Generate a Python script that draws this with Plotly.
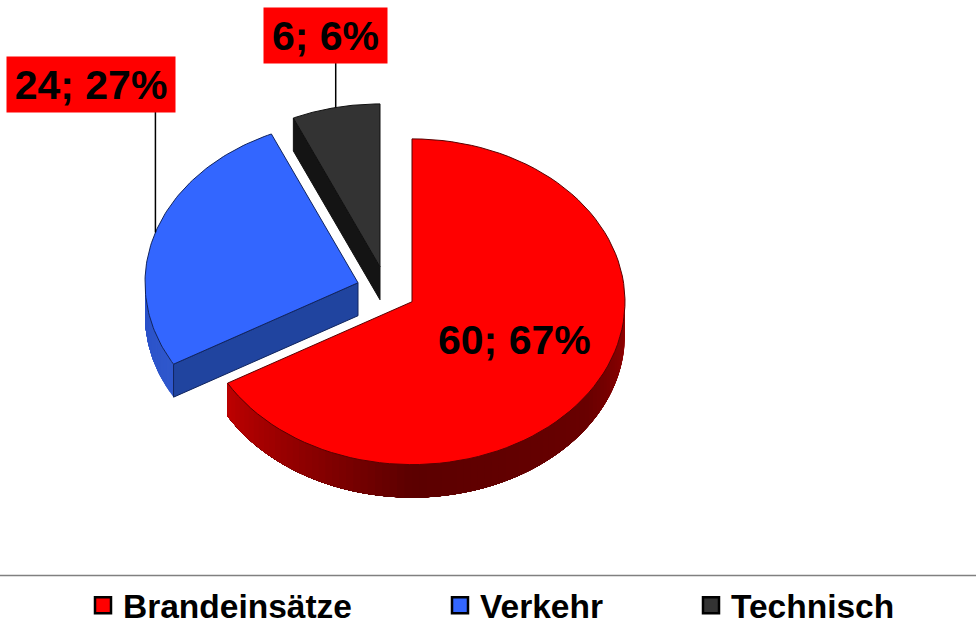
import numpy as np
import plotly.graph_objects as go

categories = ["Brandeinsätze", "Verkehr", "Technisch"]
values = [60, 24, 6]
value_labels = ["60; 67%", "24; 27%", "6; 6%"]
top_colors = ["#ff0000", "#3366ff", "#333333"]
edge_colors = ["#5a0000", "#10245e", "#111111"]
cut_colors = ["#b80000", "#20449f", "#141414"]

# Projection of the exploded pie on the page
RX, RY, DEPTH = 213, 163, 33
apexes = [(412, 302), (358, 283), (380, 267)]
PLOT_H = 577.5  # height left to the plot area above the legends


def rim(apex, deg):
    t = np.radians(deg)
    return apex[0] + RX * np.sin(t), apex[1] - RY * np.cos(t)


def poly(fig, xs, ys, fill, line=None, width=1):
    fig.add_trace(go.Scatter(
        x=list(xs), y=list(ys), mode="lines", fill="toself", fillcolor=fill,
        line=dict(color=line or fill, width=width), hoverinfo="skip", showlegend=False))


def shade(deg, stops):
    a = np.array([s[0] for s in stops], float)
    rgb = np.array([s[1] for s in stops], float)
    return "rgb(%d,%d,%d)" % tuple(np.interp(deg, a, rgb[:, i]) for i in range(3))


red_wall = [(90, (150, 0, 0)), (125, (105, 0, 0)), (180, (92, 0, 0)), (200, (125, 0, 0)), (240, (190, 0, 0))]
blue_wall = [(240, (48, 88, 205)), (270, (40, 80, 200))]
walls = {0: red_wall, 1: blue_wall}

fig = go.Figure()
total = sum(values)
ends = np.cumsum(values) / total * 360
starts = np.concatenate(([0], ends[:-1]))

# draw back slices first
for i in [2, 1, 0]:
    a0, a1, apex = starts[i], ends[i], apexes[i]
    # vertical rim wall where the rim faces the viewer
    lo, hi = max(a0, 90), min(a1, 270)
    if hi > lo:
        grid = np.linspace(lo, hi, int(round((hi - lo) / 2)) + 1)
        for d0, d1 in zip(grid[:-1], grid[1:]):
            # each band runs on to the far end, so the next band overlaps it and no seams show
            ds = np.linspace(d0, hi, 60)
            px, py = rim(apex, ds)
            poly(fig, np.r_[px, px[::-1]], np.r_[py, py[::-1] + DEPTH],
                 shade((d0 + d1) / 2, walls[i]), width=0)
    # cut face that can be seen along the last-drawn radial
    cut = {1: a0, 2: a0}.get(i)
    if cut is not None:
        rx, ry = rim(apex, cut)
        poly(fig, [apex[0], rx, rx, apex[0], apex[0]],
             [apex[1], ry, ry + DEPTH, apex[1] + DEPTH, apex[1]],
             cut_colors[i], edge_colors[i])
    # top face
    ds = np.linspace(a0, a1, 90)
    px, py = rim(apex, ds)
    poly(fig, np.r_[apex[0], px, apex[0]], np.r_[apex[1], py, apex[1]],
         top_colors[i], edge_colors[i])

# leader lines
for i in [1, 2]:
    mid = (starts[i] + ends[i]) / 2
    mx, my = rim(apexes[i], mid)
    top = {1: 112, 2: 63}[i]
    fig.add_trace(go.Scatter(x=[mx, mx], y=[top, my], mode="lines",
                             line=dict(color="#000000", width=1.5),
                             hoverinfo="skip", showlegend=False))

# legend entries
legend_x = [83, 440, 691]
layout_legends = {}
for i, name in enumerate(categories):
    key = "legend" if i == 0 else f"legend{i + 1}"
    fig.add_trace(go.Scatter(x=[None], y=[None], mode="markers", name=name, legend=key,
                             marker=dict(symbol="square", size=16, color=top_colors[i],
                                         line=dict(color="#000000", width=2.5))))
    layout_legends[key] = dict(x=legend_x[i] / 976, y=1 - 605.5 / 630, xanchor="left", yanchor="middle",
                               xref="paper", yref="container",
                               bgcolor="rgba(0,0,0,0)", borderwidth=0,
                               font=dict(family="Liberation Sans", size=33.5, color="#000000", weight=700),
                               itemclick=False, itemdoubleclick=False, traceorder="normal")

annots = [
    dict(x=514, y=340, text="<b>%s</b>" % value_labels[0], showarrow=False),
    dict(x=91, y=84.5, text="<b>%s</b>" % value_labels[1], showarrow=False, bgcolor="#ff0000", width=168, height=55),
    dict(x=325.5, y=35.5, text="<b>%s</b>" % value_labels[2], showarrow=False, bgcolor="#ff0000", width=123, height=55),
]
for a in annots:
    a.update(xref="x", yref="y", borderpad=0, xanchor="center", yanchor="middle",
             font=dict(family="Liberation Sans", size=41, color="#000000"))

fig.update_layout(
    width=976, height=630, margin=dict(l=0, r=0, t=0, b=0), autosize=False,
    paper_bgcolor="#ffffff", plot_bgcolor="#ffffff",
    xaxis=dict(range=[0, 976], visible=False, fixedrange=True),
    yaxis=dict(range=[PLOT_H, 0], visible=False, fixedrange=True),
    annotations=annots,
    shapes=[dict(type="line", xref="x", yref="y", x0=0, x1=976, y0=576, y1=576,
                 line=dict(color="#808080", width=1.5))],
    **layout_legends,
)
fig.write_html("out.html", config=dict(displayModeBar=False),
               post_script="document.body.style.margin='0';document.documentElement.style.overflow='hidden';")
